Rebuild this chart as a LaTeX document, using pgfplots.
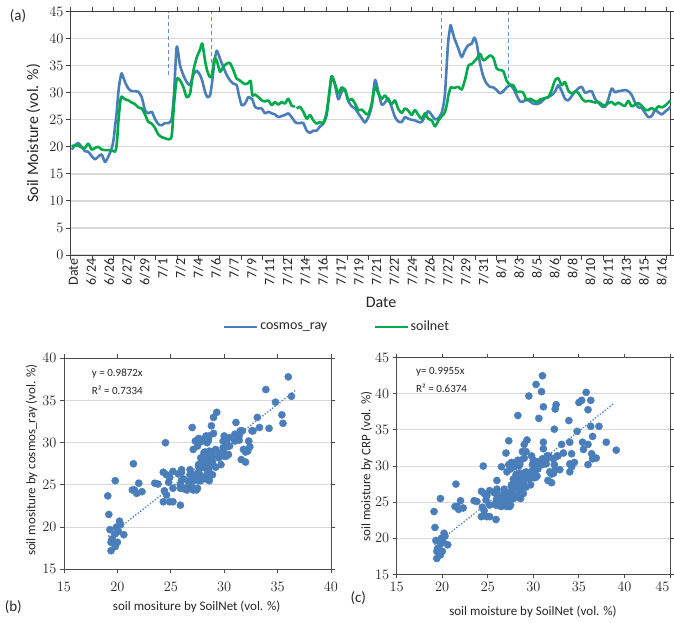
\documentclass[border=0pt]{standalone}
\usepackage{fontspec}
\setmainfont{Carlito}
\usepackage{pgfplots}
\pgfplotsset{compat=1.18}
\usepackage{pgfplotstable}
\definecolor{cblue}{RGB}{74,126,187}
\definecolor{cgreen}{RGB}{0,170,75}
\definecolor{gridc}{RGB}{217,217,217}
\definecolor{txt}{RGB}{38,38,38}

\pgfplotstableread{
u c s w
1.0 19.5 20.1 0
4.3 20.3 20.3 0
7.6 20.7 20.2 0
11.0 20.0 19.9 0
14.3 19.2 19.8 0
17.6 19.1 20.6 0
21.0 18.3 19.5 0
24.3 17.7 19.8 0
27.6 18.2 20.0 0
31.0 18.6 19.5 0
34.3 17.2 19.4 0
37.6 18.2 19.4 0
41.0 19.7 19.3 0
43.0 21.5 19.2 0
44.3 23.7 19.1 0
45.5 25.5 19.8 0
46.5 27.5 21.5 0
47.6 30.0 24.5 0
48.8 31.8 27.0 0
50.0 33.0 29.0 0
51.0 33.6 29.3 0
54.3 32.0 28.8 0
57.6 30.8 28.6 0
61.0 30.3 28.2 0
64.3 30.3 27.9 0
67.6 30.2 27.3 0
71.0 29.2 27.1 0
74.3 26.8 26.0 0
77.6 26.2 24.6 0
81.0 26.5 24.3 0
84.3 25.2 23.5 0
87.6 24.2 22.3 0
91.0 24.0 21.8 0
94.3 24.4 21.6 0
97.6 24.4 21.4 0
101.0 25.2 22.0 0
103.3 29.9 27.9 1
106.0 38.5 32.5 1
109.3 35.1 32.3 1
112.6 33.3 31.1 1
116.0 32.0 29.2 1
119.3 31.4 29.8 1
122.6 33.3 34.0 1
126.0 34.1 36.5 1
129.3 33.3 38.0 1
131.6 32.2 39.1 1
134.3 30.2 36.0 1
136.6 29.2 34.0 1
139.3 29.5 32.9 1
141.3 31.8 33.3 0
143.6 35.5 36.3 0
146.0 37.8 36.0 0
149.3 36.3 33.9 0
152.6 34.8 34.8 0
156.0 33.3 35.4 0
159.3 32.3 35.5 0
162.6 31.7 34.2 0
166.0 31.4 32.6 0
168.3 29.5 32.4 0
171.0 27.7 32.0 0
174.3 28.0 31.6 0
177.6 29.2 31.8 0
180.0 29.0 32.2 0
181.6 28.8 29.5 0
184.3 27.4 29.7 0
187.6 27.1 29.2 0
191.0 27.1 28.6 0
194.3 26.2 28.4 0
197.6 26.5 28.6 0
201.0 26.2 27.7 0
204.3 26.0 28.3 0
207.6 25.5 27.8 0
211.0 25.7 28.3 0
214.3 25.9 28.0 0
217.6 26.2 28.9 0
221.0 25.5 27.6 0
224.3 24.6 27.5 0
225.2 24.5 nan 0
226.0 24.4 27.1 0
229.3 24.4 27.4 0
232.6 24.4 26.5 0
236.0 23.0 25.2 0
239.3 22.6 25.9 0
242.6 23.0 24.9 0
246.0 23.0 24.3 0
249.3 23.8 24.6 0
252.6 24.3 24.4 0
256.0 26.5 26.0 0
259.3 31.0 31.0 0
261.0 33.0 33.1 0
264.3 31.4 31.7 0
267.6 28.8 29.9 0
271.0 30.2 31.0 0
274.3 30.6 30.5 0
277.6 28.5 28.6 0
281.0 27.5 28.9 0
284.3 27.1 28.0 0
287.6 26.2 26.8 0
291.0 25.3 26.9 0
294.3 24.5 26.3 0
297.6 25.5 26.0 0
301.0 27.5 28.0 0
304.3 32.4 31.1 0
307.6 30.2 29.9 0
311.0 27.8 28.9 0
314.3 28.2 29.5 0
317.6 29.0 28.6 0
321.0 27.3 27.9 0
324.3 25.5 28.6 0
327.6 24.7 27.0 0
331.0 24.6 26.3 0
334.3 25.5 27.1 0
337.6 25.2 26.7 0
341.0 25.0 25.9 0
344.3 24.9 26.8 0
347.6 24.6 25.9 0
351.0 24.6 25.2 0
354.3 25.7 26.2 0
357.6 26.6 25.2 0
361.0 25.9 24.9 0
364.3 25.1 23.8 0
367.6 25.3 24.8 0
371.0 26.3 25.7 0
373.0 28.0 26.0 1
374.3 29.9 26.5 1
375.5 33.5 27.3 1
376.6 37.0 28.3 1
377.6 39.7 29.5 1
378.8 41.3 30.3 1
380.0 42.5 31.0 1
383.3 40.3 30.9 1
387.6 38.2 31.1 1
391.0 36.6 30.6 1
394.3 37.9 32.4 1
397.6 38.8 35.0 1
401.0 39.1 35.3 1
403.6 40.2 35.8 1
406.0 39.1 36.3 1
409.3 35.5 37.2 1
412.6 33.0 36.0 1
416.0 31.7 36.4 1
419.3 31.1 36.9 1
422.6 31.0 36.5 1
426.0 30.5 34.5 1
429.3 29.9 34.2 1
432.6 30.3 34.0 1
436.0 31.0 32.2 1
439.3 31.4 31.5 0
442.6 30.8 31.4 0
446.0 29.5 30.2 0
449.3 28.4 30.2 0
452.6 28.4 30.0 0
456.0 28.8 28.6 0
459.3 28.4 28.9 0
462.6 28.0 28.6 0
466.0 27.9 28.3 0
470.0 28.2 28.8 0
474.3 29.0 29.0 0
477.6 29.2 29.2 0
481.0 29.6 30.5 0
484.3 30.2 32.3 0
487.6 31.4 32.7 0
491.0 30.3 31.4 0
494.3 28.9 32.0 0
497.6 28.6 30.4 0
501.0 29.4 29.9 0
504.3 30.2 30.2 0
507.6 30.8 30.0 0
511.0 31.1 29.0 0
514.3 30.0 28.4 0
517.6 30.2 28.5 0
521.0 30.3 28.4 0
524.3 28.9 28.2 0
527.6 28.2 28.3 0
531.0 27.5 27.9 0
534.3 27.4 27.6 0
537.6 28.8 28.1 0
541.0 30.8 28.3 0
544.3 30.1 27.8 0
547.6 30.3 28.2 0
551.0 30.4 27.8 0
554.3 30.5 27.6 0
557.6 30.3 28.5 0
561.0 29.6 27.5 0
564.3 28.2 27.8 0
567.6 27.3 28.1 0
571.0 27.2 27.6 0
574.3 26.3 26.9 0
577.6 25.5 26.8 0
581.0 25.7 27.2 0
584.3 26.8 26.8 0
587.6 26.4 27.5 0
591.0 26.0 27.3 0
594.3 26.5 27.6 0
597.6 27.0 28.2 0
600.0 27.5 28.6 0
}\data

\begin{document}
\begin{tikzpicture}[x=1pt,y=1pt]
\path[use as bounding box] (0,0) rectangle (674,622);

\begin{axis}[
  at={(70.7pt,367pt)}, anchor=south west, scale only axis,
  width=600pt, height=243.3pt,
  xmin=0, xmax=600, ymin=0, ymax=45,
  ytick={0,5,...,45},
  xtick={0,21.29,...,600}, xticklabels={},
  extra x ticks={2.8,20.6,38.5,56.3,74.1,92.0,109.8,127.6,145.4,163.3,181.1,198.9,216.8,234.6,252.4,270.3,288.1,305.9,323.7,341.6,359.4,377.2,395.1,412.9,430.7,448.6,466.4,484.2,502.0,519.9,537.7,555.5,573.4,591.2},
  extra x tick labels={Date,6/24,6/26,6/27,6/29,7/1,7/2,7/4,7/6,7/7,7/9,7/11,7/12,7/14,7/16,7/17,7/19,7/21,7/22,7/24,7/26,7/27,7/29,7/31,8/1,8/3,8/5,8/6,8/8,8/10,8/11,8/13,8/15,8/16},
  extra x tick style={major tick length=0pt, xticklabel style={rotate=90, anchor=east, font=\fontsize{14}{14}\selectfont, text=txt}},
  ymajorgrids, grid style={gridc, line width=1.2pt},
  tick align=outside, major tick length=5pt,
  axis line style={black!75, line width=0.9pt},
  tick style={black!75, line width=0.9pt},
  yticklabel style={font=\fontsize{14.5}{14.5}\selectfont, text=txt, inner sep=2pt},
  unbounded coords=jump,
  legend columns=2, legend cell align=left,
  legend style={at={(0.2533,-0.2947)}, anchor=west, draw=none, fill=none, inner sep=0pt,
    font=\fontsize{14}{14}\selectfont, text=txt,
    /tikz/every even column/.append style={column sep=44pt}},
  legend image code/.code={\draw[#1, line width=2.4pt] (0pt,0pt) -- (33pt,0pt);},
]
\addplot[forget plot, cblue!85, line width=1pt, dash pattern=on 4pt off 3pt] coordinates {(97.3,33.3)(97.3,45)};
\addplot[forget plot, cblue!85, line width=1pt, dash pattern=on 4pt off 3pt] coordinates {(140.3,35.5)(140.3,45)};
\addplot[forget plot, cblue!85, line width=1pt, dash pattern=on 4pt off 3pt] coordinates {(371,32.7)(371,45)};
\addplot[forget plot, cblue!85, line width=1pt, dash pattern=on 4pt off 3pt] coordinates {(437.3,32.7)(437.3,45)};
\addplot[cblue, line width=2.6pt, smooth, tension=0.4, line join=round] table[x=u,y=c]{\data};
\addplot[cgreen, line width=2.6pt, smooth, tension=0.4, line join=round] table[x=u,y=s]{\data};
\legend{cosmos\_ray, soilnet}
\end{axis}

\begin{axis}[
  at={(64pt,52.7pt)}, anchor=south west, scale only axis,
  width=267pt, height=211pt,
  xmin=15, xmax=40, ymin=15, ymax=40,
  xtick={15,20,...,40}, ytick={15,20,...,40},
  ymajorgrids, grid style={gridc, line width=1pt},
  tick align=outside, major tick length=4pt,
  axis line style={black!70, line width=0.9pt},
  tick style={black!70, line width=0.9pt},
  tick label style={font=\fontsize{14.5}{14.5}\selectfont, text=txt},
  xticklabel style={yshift=-5pt},
]
\addplot[only marks, mark=*, mark size=3.6pt, cblue, restrict expr to domain={\thisrow{w}}{-0.5:0.5}] table[x=s,y=c]{\data};
\addplot[cblue, line width=1.8pt, dash pattern=on 0.1pt off 3pt, line cap=round] coordinates {(19.2,18.95)(36.8,36.33)};
\end{axis}

\begin{axis}[
  at={(396.7pt,47.6pt)}, anchor=south west, scale only axis,
  width=273.3pt, height=216.7pt,
  xmin=15, xmax=45, ymin=15, ymax=45,
  xtick={15,20,...,40}, ytick={15,20,...,45},
  extra x ticks={45}, extra x tick style={xticklabel style={anchor=north east, xshift=3pt}},
  ymajorgrids, grid style={gridc, line width=1pt},
  tick align=outside, major tick length=4pt,
  axis line style={black!70, line width=0.9pt},
  tick style={black!70, line width=0.9pt},
  tick label style={font=\fontsize{14.5}{14.5}\selectfont, text=txt},
]
\addplot[only marks, mark=*, mark size=3.6pt, cblue] table[x=s,y=c]{\data};
\addplot[cblue, line width=1.8pt, dash pattern=on 0.1pt off 3pt, line cap=round] coordinates {(19.2,19.11)(38.8,38.63)};
\end{axis}

\node[rotate=90, font=\fontsize{16}{16}\selectfont, text=txt] at (33.3,488.7) {Soil Moisture (vol. \%)};
\node[font=\fontsize{16}{16}\selectfont, text=txt] at (381,320) {Date};
\node[font=\fontsize{15}{15}\selectfont, text=txt] at (18,606) {(a)};
\node[font=\fontsize{15}{15}\selectfont, text=txt] at (13.3,15.3) {(b)};
\node[font=\fontsize{15}{15}\selectfont, text=txt] at (358.3,23.7) {(c)};
\node[font=\fontsize{13}{13}\selectfont, text=txt] at (196.7,15.3) {soil mositure by SoilNet (vol. \%)};
\node[rotate=90, font=\fontsize{13}{13}\selectfont, text=txt] at (31.7,162) {soil mositure by cosmos\_ray (vol. \%)};
\node[font=\fontsize{13}{13}\selectfont, text=txt] at (533,10.3) {soil moisture by SoilNet (vol. \%)};
\node[rotate=90, font=\fontsize{13}{13}\selectfont, text=txt] at (366.7,155.3) {soil moisture by CRP (vol. \%)};
\node[anchor=west, inner sep=0pt, font=\fontsize{11}{11}\selectfont, text=txt] at (91.7,248.7) {y = 0.9872x};
\node[anchor=west, inner sep=0pt, font=\fontsize{11}{11}\selectfont, text=txt] at (91.7,232) {R² = 0.7334};
\node[anchor=west, inner sep=0pt, font=\fontsize{11}{11}\selectfont, text=txt] at (416,250.3) {y= 0.9955x};
\node[anchor=west, inner sep=0pt, font=\fontsize{11}{11}\selectfont, text=txt] at (416,233.7) {R² = 0.6374};
\end{tikzpicture}
\end{document}
